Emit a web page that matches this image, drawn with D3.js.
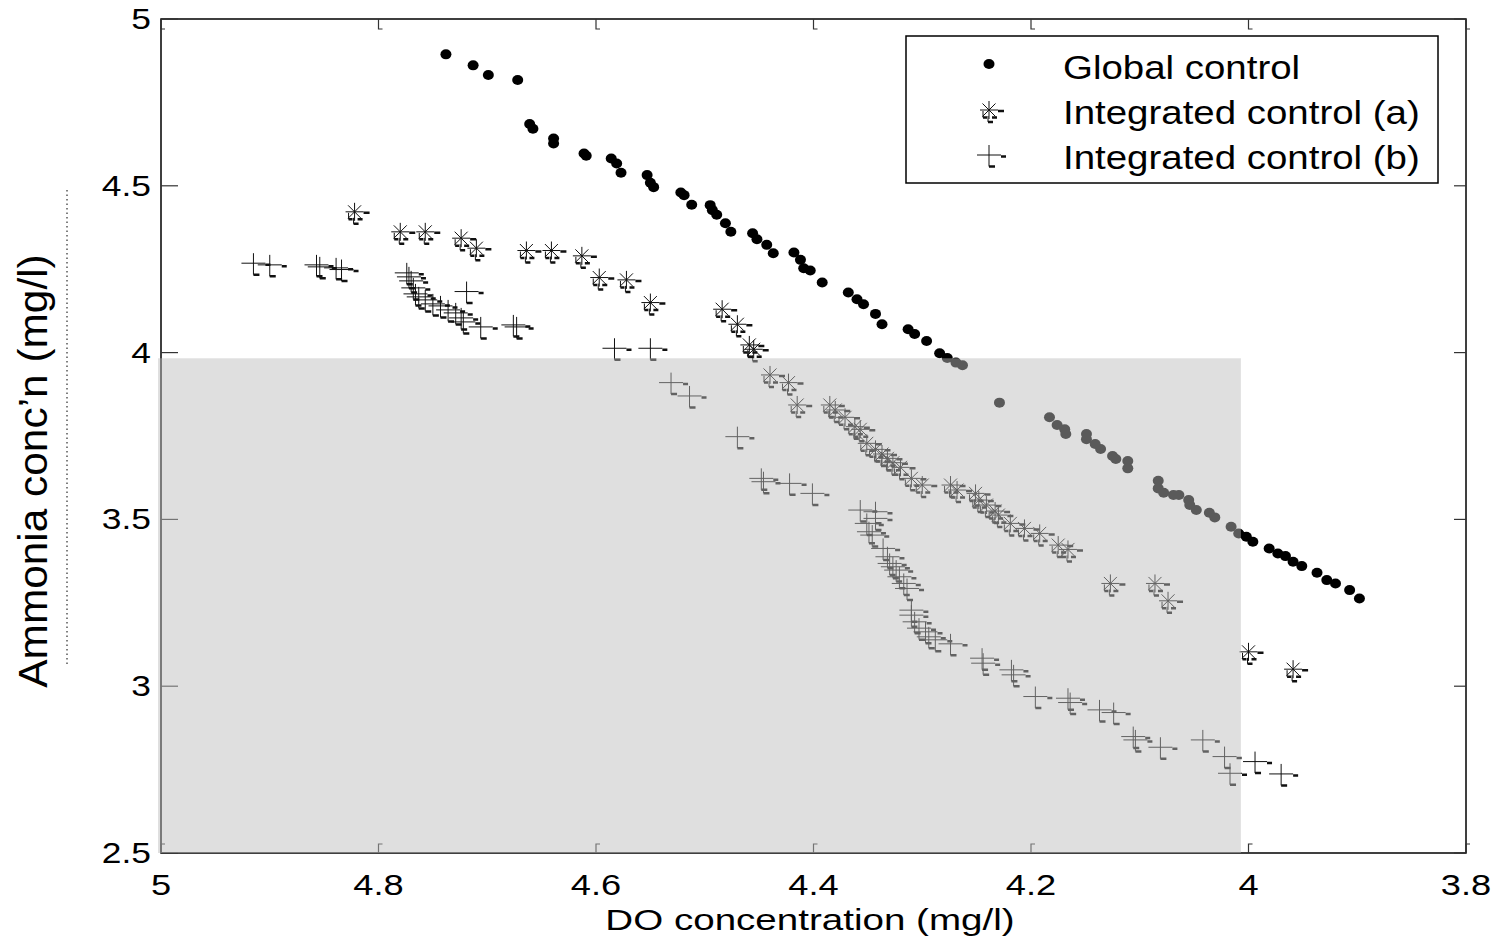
<!DOCTYPE html>
<html>
<head>
<meta charset="utf-8">
<script src="https://cdn.jsdelivr.net/npm/d3@7/dist/d3.min.js"></script>
<style>
  body { margin: 0; background: #fff; }
  text { font-family: "Liberation Sans", Arial, sans-serif; fill: #000; }
</style>
</head>
<body>
<script>
// ---- data: [DO concentration, ammonia conc'n] ----
var globalControl = [
  [4.738,4.894],[4.713,4.861],[4.699,4.832],[4.672,4.817],[4.661,4.685],[4.658,4.671],
  [4.639,4.642],[4.639,4.627],[4.611,4.597],[4.609,4.590],[4.586,4.582],[4.581,4.567],
  [4.577,4.539],[4.553,4.532],[4.550,4.509],[4.547,4.496],[4.522,4.480],[4.519,4.472],
  [4.512,4.443],[4.495,4.442],[4.493,4.427],[4.489,4.413],[4.481,4.388],[4.476,4.362],
  [4.456,4.358],[4.452,4.340],[4.443,4.323],[4.437,4.298],[4.418,4.300],[4.412,4.278],
  [4.409,4.253],[4.403,4.246],[4.392,4.210],[4.368,4.180],[4.360,4.160],[4.354,4.145],
  [4.343,4.116],[4.337,4.085],[4.313,4.070],[4.307,4.056],[4.296,4.035],[4.284,3.998],
  [4.277,3.984],[4.269,3.970],[4.263,3.962],
  [4.229,3.850],[4.183,3.806],[4.176,3.783],[4.169,3.770],[4.168,3.756],[4.149,3.756],
  [4.149,3.740],[4.141,3.726],[4.136,3.711],[4.125,3.690],[4.122,3.681],[4.111,3.675],
  [4.111,3.653],[4.083,3.616],[4.083,3.593],[4.078,3.580],[4.069,3.573],[4.064,3.573],
  [4.055,3.558],[4.054,3.543],[4.048,3.528],[4.036,3.520],[4.031,3.506],[4.016,3.478],
  [4.009,3.458],[4.002,3.448],[3.996,3.433],[3.981,3.413],[3.973,3.398],[3.966,3.390],
  [3.959,3.373],[3.951,3.360],[3.937,3.340],[3.928,3.318],[3.920,3.308],[3.907,3.288],
  [3.898,3.263]
];
var integratedA = [
  [4.822,4.422],[4.780,4.362],[4.757,4.362],[4.724,4.343],[4.710,4.313],[4.664,4.306],
  [4.641,4.306],[4.613,4.290],[4.597,4.225],[4.572,4.218],[4.550,4.150],[4.484,4.130],
  [4.470,4.085],[4.459,4.023],[4.455,4.010],[4.440,3.933],[4.423,3.910],[4.415,3.843],
  [4.385,3.843],[4.380,3.828],[4.371,3.806],[4.362,3.778],[4.357,3.770],[4.351,3.728],
  [4.343,3.710],[4.337,3.696],[4.332,3.683],[4.327,3.670],[4.320,3.656],[4.310,3.623],
  [4.300,3.603],[4.274,3.603],[4.268,3.588],[4.251,3.578],[4.248,3.558],[4.241,3.543],
  [4.233,3.525],[4.230,3.513],[4.219,3.488],[4.206,3.473],[4.192,3.458],[4.175,3.423],
  [4.166,3.410],[4.127,3.308],[4.086,3.308],[4.074,3.256],[4.000,3.103],[3.959,3.051]
];
var integratedB = [
  [4.915,4.268],[4.900,4.263],[4.857,4.263],[4.854,4.257],[4.839,4.254],[4.834,4.249],
  [4.774,4.239],[4.772,4.227],[4.770,4.215],[4.768,4.194],[4.766,4.176],[4.763,4.167],
  [4.757,4.158],[4.750,4.146],[4.743,4.140],[4.736,4.128],[4.729,4.119],[4.724,4.104],
  [4.722,4.092],[4.719,4.183],[4.706,4.077],[4.676,4.083],[4.673,4.077],[4.583,4.013],
  [4.550,4.013],[4.531,3.910],[4.514,3.870],[4.470,3.748],[4.448,3.623],[4.446,3.613],
  [4.422,3.608],[4.401,3.578],[4.357,3.528],[4.343,3.523],[4.343,3.503],[4.351,3.488],
  [4.349,3.463],[4.346,3.453],[4.336,3.413],[4.332,3.388],[4.330,3.368],[4.327,3.358],
  [4.324,3.348],[4.321,3.328],[4.317,3.308],[4.314,3.293],[4.310,3.228],[4.310,3.213],
  [4.307,3.193],[4.303,3.174],[4.297,3.163],[4.294,3.148],[4.288,3.139],[4.274,3.127],
  [4.245,3.084],[4.244,3.069],[4.218,3.049],[4.216,3.034],[4.196,2.969],[4.166,2.964],
  [4.164,2.951],[4.137,2.929],[4.124,2.921],[4.106,2.849],[4.104,2.839],[4.081,2.817],
  [4.042,2.839],[4.022,2.789],[4.017,2.739],[3.994,2.774],[3.970,2.737]
];
var xTicks = [5, 4.8, 4.6, 4.4, 4.2, 4, 3.8];
var yTicks = [2.5, 3, 3.5, 4, 4.5, 5];
var legendLabels = ["Global control", "Integrated control (a)", "Integrated control (b)"];
// shaded box (lower left corner of the plot)
var shadeX = [5, 4.007], shadeY = [2.5, 3.983];

var width = 1497, height = 944;
var svg = d3.select("body").append("svg")
    .attr("width", width)
    .attr("height", height);

var x = d3.scaleLinear().domain([5, 3.8]).range([161, 1466]);
var y = d3.scaleLinear().domain([2.5, 5]).range([853, 19]);

// text stretched sideways, like the picture
function stext(g, tx, ty, str, size, sx, anchor) {
  return g.append("text")
      .attr("transform", "translate(" + tx + "," + ty + ") scale(" + sx + ",1)")
      .attr("text-anchor", anchor || "start")
      .attr("font-size", size)
      .text(str);
}

// frame
svg.append("rect")
    .attr("x", x(5)).attr("y", y(5))
    .attr("width", x(3.8) - x(5)).attr("height", y(2.5) - y(5))
    .attr("fill", "none").attr("stroke", "#000").attr("stroke-width", 1.5);

var ticks = svg.append("g").attr("fill", "none").attr("stroke", "#333").attr("stroke-width", 1.2);
ticks.selectAll(".tb").data(xTicks).join("path")
    .attr("d", d => "M" + x(d) + "," + y(2.5) + "v-9h4");
ticks.selectAll(".tt").data(xTicks).join("path")
    .attr("d", d => "M" + x(d) + "," + y(5) + "v10h4");
ticks.selectAll(".tl").data(yTicks).join("path")
    .attr("d", d => "M" + x(5) + "," + y(d) + "h17");
ticks.selectAll(".tr").data(yTicks).join("path")
    .attr("d", d => "M" + x(3.8) + "," + y(d) + "h-12");

// markers
var gDots = svg.append("g");
gDots.selectAll("ellipse").data(globalControl).join("ellipse")
    .attr("cx", d => x(d[0])).attr("cy", d => y(d[1]))
    .attr("rx", 5.5).attr("ry", 5)
    .attr("fill", "#000");

var starThin = "M-9,0H9M0,-9V9M-6.5,-6.5L6.5,6.5M-6.5,6.5L6.5,-6.5M-6,1V7.5M-1,6V12";
var starThick = "M9,1H15M-6,7.5H-2M3,7.5H8M-1,12H4";
var plusThin = "M-12,0H12M0,-10V11.5";
var plusThick = "M12,1.5H17M0,11.5H6";

function drawMarkers(data, thin, thick) {
  var g = svg.append("g");
  var m = g.selectAll("g").data(data).join("g")
      .attr("transform", d => "translate(" + x(d[0]) + "," + y(d[1]) + ")");
  m.append("path").attr("d", thin).attr("fill", "none").attr("stroke", "#111").attr("stroke-width", 1);
  m.append("path").attr("d", thick).attr("fill", "none").attr("stroke", "#111").attr("stroke-width", 2.5);
}
drawMarkers(integratedA, starThin, starThick);
drawMarkers(integratedB, plusThin, plusThick);

// legend
var lg = svg.append("g");
lg.append("rect")
    .attr("x", 906).attr("y", 36).attr("width", 532).attr("height", 147)
    .attr("fill", "#fff").attr("stroke", "#000").attr("stroke-width", 1.5);
var rowY = [67, 112, 157];
lg.append("ellipse").attr("cx", 989).attr("cy", rowY[0] - 3).attr("rx", 5.5).attr("ry", 5).attr("fill", "#000");
[starThin, plusThin].forEach(function (p, i) {
  var t = "translate(989," + (rowY[i + 1] - 2) + ")";
  lg.append("path").attr("transform", t).attr("d", p).attr("fill", "none").attr("stroke", "#111").attr("stroke-width", 1);
  lg.append("path").attr("transform", t).attr("d", [starThick, plusThick][i]).attr("fill", "none").attr("stroke", "#111").attr("stroke-width", 2.5);
});
legendLabels.forEach(function (s, i) {
  stext(lg, 1063, rowY[i] + 12, s, 33, 1.165);
});

// shaded region drawn over everything inside it
svg.append("rect")
    .attr("x", x(shadeX[0]) - 3).attr("y", y(shadeY[1]))
    .attr("width", x(shadeX[1]) - x(shadeX[0]) + 3)
    .attr("height", y(shadeY[0]) - y(shadeY[1]))
    .attr("fill", "rgb(188,188,188)").attr("fill-opacity", 0.478);

// tick labels
var lab = svg.append("g");
xTicks.forEach(function (d) {
  stext(lab, x(d), 895, String(d), 29, 1.25, "middle");
});
yTicks.forEach(function (d) {
  stext(lab, 151, y(d) + 10, String(d), 29, 1.22, "end");
});

// axis titles
stext(lab, 810, 930, "DO concentration (mg/l)", 29, 1.33, "middle");
lab.append("text")
    .attr("transform", "translate(47,471) rotate(-90) scale(1.06,1)")
    .attr("text-anchor", "middle")
    .attr("font-size", 40)
    .text("Ammonia conc\u2019n (mg/l)");

// faint dotted remnant next to the y title
svg.append("line")
    .attr("x1", 67).attr("x2", 67).attr("y1", 190).attr("y2", 665)
    .attr("stroke", "#000").attr("stroke-width", 1).attr("stroke-dasharray", "1.5,3");
</script>
</body>
</html>
